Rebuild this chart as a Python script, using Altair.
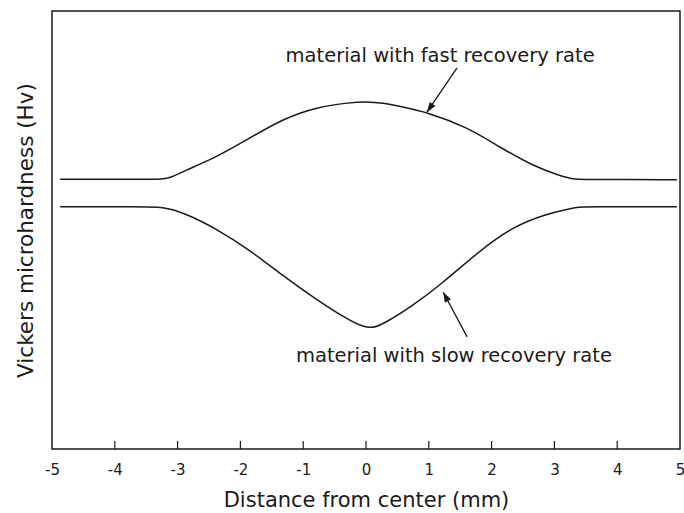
import math

import altair as alt
import pandas as pd

# Hardness profiles across the joint: distance from centre (mm) vs relative Hv
fast_x = [-4.87, -3.6, -3.23, -3.1, -2.91, -2.37, -1.85, -1.32, -0.78, -0.25,
          0.0, 0.27, 0.54, 0.97, 1.61, 2.13, 2.66, 3.09, 3.30, 3.50, 4.95]
fast_hv = [61.6, 61.6, 61.6, 62.0, 63.4, 66.7, 71.0, 75.4, 78.1, 79.1,
           79.3, 79.0, 78.2, 76.9, 73.5, 68.9, 64.6, 62.4, 61.6, 61.5, 61.5]

slow_x = [-4.87, -3.6, -3.23, -2.91, -2.37, -1.85, -1.32, -0.78, -0.25, -0.06,
          0.10, 0.25, 0.75, 1.18, 1.82, 2.34, 2.88, 3.20, 3.40, 3.55, 4.95]
slow_hv = [55.3, 55.3, 55.3, 54.0, 50.2, 45.4, 39.5, 34.0, 29.2, 28.0,
           27.6, 28.3, 32.8, 37.4, 45.4, 50.8, 53.7, 54.7, 55.3, 55.3, 55.3]

x_tick_values = [-5, -4, -3, -2, -1, 0, 1, 2, 3, 4, 5]
inner_tick_values = [-4, -3, -2, -1, 0, 1, 2, 3, 4]

# Annotation text and arrows (arrow runs from label towards its curve)
labels = ["material with fast recovery rate", "material with slow recovery rate"]
label_x = [1.18, 1.40]
label_hv = [88.4, 19.9]
arrow_from_x = [1.45, 1.61]
arrow_from_hv = [87.0, 25.6]
arrow_to_x = [0.97, 1.23]
arrow_to_hv = [76.9, 35.8]

W, H = 628, 438
X_DOMAIN = [-5, 5]
Y_DOMAIN = [0, 100]
INK = "#1a1a1a"
FONT = "DejaVu Sans"

curves = pd.concat([
    pd.DataFrame({"x": fast_x, "hv": fast_hv, "series": "fast"}),
    pd.DataFrame({"x": slow_x, "hv": slow_hv, "series": "slow"}),
])

# Arrow-head rotation follows the direction of each arrow on screen
px_x = W / (X_DOMAIN[1] - X_DOMAIN[0])
px_y = H / (Y_DOMAIN[1] - Y_DOMAIN[0])
angles = []
for x0, y0, x1, y1 in zip(arrow_from_x, arrow_from_hv, arrow_to_x, arrow_to_hv):
    dx = (x1 - x0) * px_x
    dy = -(y1 - y0) * px_y
    angles.append(math.degrees(math.atan2(dx, -dy)) % 360)

notes = pd.DataFrame({
    "label": labels,
    "lx": label_x,
    "ly": label_hv,
    "x0": arrow_from_x,
    "y0": arrow_from_hv,
    "x1": arrow_to_x,
    "y1": arrow_to_hv,
    "angle": angles,
})

x_scale = alt.Scale(domain=X_DOMAIN, nice=False, zero=False)
y_scale = alt.Scale(domain=Y_DOMAIN, nice=False, zero=False)

x_axis = alt.Axis(
    title="Distance from center (mm)",
    values=x_tick_values,
    labelExpr="'' + datum.value",
    ticks=False,
    domain=False,
    grid=False,
    labelFlush=False,
    labelFont=FONT,
    labelFontSize=15,
    labelColor=INK,
    labelPadding=13,
    titleFont=FONT,
    titleFontSize=21,
    titleFontWeight="normal",
    titleColor=INK,
    titlePadding=12,
)
y_axis = alt.Axis(
    title="Vickers microhardness (Hv)",
    labels=False,
    ticks=False,
    domain=False,
    grid=False,
    titleFont=FONT,
    titleFontSize=21.5,
    titleFontWeight="normal",
    titleColor=INK,
    titlePadding=15,
)

lines = alt.Chart(curves).mark_line(
    color=INK, strokeWidth=1.5, interpolate="basis"
).encode(
    x=alt.X("x:Q", scale=x_scale, axis=x_axis),
    y=alt.Y("hv:Q", scale=y_scale, axis=y_axis),
    detail="series:N",
)

# Inward-pointing tick marks along the bottom frame
ticks = alt.Chart(pd.DataFrame({"t": inner_tick_values})).mark_rule(
    color=INK, strokeWidth=1.2
).encode(
    x=alt.X("t:Q", scale=x_scale),
    y=alt.value(H - 8),
    y2=alt.value(H),
)

arrow_shafts = alt.Chart(notes).mark_rule(color=INK, strokeWidth=1.3).encode(
    x=alt.X("x0:Q", scale=x_scale),
    y=alt.Y("y0:Q", scale=y_scale),
    x2="x1:Q",
    y2="y1:Q",
)

arrow_heads = alt.Chart(notes).mark_point(
    shape="M0,0L-0.7,2L0.7,2Z",
    size=100,
    filled=True,
    color=INK,
    opacity=1,
    strokeWidth=0,
).encode(
    x=alt.X("x1:Q", scale=x_scale),
    y=alt.Y("y1:Q", scale=y_scale),
    angle=alt.Angle("angle:Q", scale=None),
)

texts = alt.Chart(notes).mark_text(
    font=FONT, fontSize=19.5, color=INK, align="center", baseline="alphabetic"
).encode(
    x=alt.X("lx:Q", scale=x_scale),
    y=alt.Y("ly:Q", scale=y_scale),
    text="label:N",
)

chart = alt.layer(lines, ticks, arrow_shafts, arrow_heads, texts).properties(
    width=W,
    height=H,
    autosize=alt.AutoSizeParams(type="none"),
    padding={"left": 52, "top": 11, "right": 4, "bottom": 64},
    background="white",
).configure_view(
    stroke=INK,
    strokeWidth=1.5,
)

chart.save("out.html", embed_options={"renderer": "svg", "actions": False})
